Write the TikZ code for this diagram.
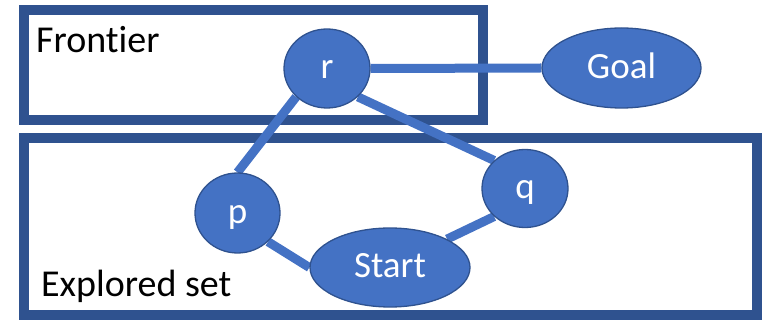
\documentclass[tikz,border=0pt]{standalone}
\usepackage{fontspec}
\setmainfont{Carlito}[Ligatures={NoCommon}]
\usetikzlibrary{shapes.geometric}
\definecolor{boxblue}{HTML}{2F528F}
\definecolor{nodeblue}{HTML}{4472C4}
\pgfdeclarelayer{boxes}
\pgfdeclarelayer{links}
\pgfsetlayers{boxes,links,main}
\tikzset{
  region/.style={draw=boxblue, line width=10pt},
  link/.style={draw=nodeblue, line width=9pt},
  vertex/.style={ellipse, fill=nodeblue, draw=boxblue, line width=1.3pt, inner sep=0pt,
    text=white, font=\fontsize{37}{44}\selectfont, text height=24pt, text depth=3pt},
  label/.style={anchor=base west, inner sep=0pt, font=\fontsize{38}{45}\selectfont, text=black}
}
\begin{document}
\begin{tikzpicture}[x=1pt, y=-1pt]
\useasboundingbox (0,0) rectangle (763,320);
\begin{pgfonlayer}{boxes}
\draw[region] (23.5,10.5) rectangle (483,120.5);
\draw[region] (23.5,138) rectangle (756.5,315);
\end{pgfonlayer}
\node[label] (frontier) at (36,53) {Frontier};
\node[label] (explored) at (41,297) {Explored set};

\node[vertex, minimum width=86pt, minimum height=79pt] (r) at (327,68.5) {r};
\node[vertex, minimum width=159pt, minimum height=80pt] (goal) at (621.5,68) {Goal};
\node[vertex, minimum width=85pt, minimum height=80pt] (p) at (237.5,213) {p};
\node[vertex, minimum width=86pt, minimum height=78pt] (q) at (525,188.5) {q};
\node[vertex, minimum width=160pt, minimum height=79pt] (start) at (390,267.5) {Start};

\begin{pgfonlayer}{links}
\draw[link] (r.east) -- (goal.west);
\draw[link] (r.south west) -- (p.north);
\draw[link] (r.south east) -- (q.north west);
\draw[link] (q.south west) -- (start.north east);
\draw[link] (p.south east) -- (start.west);
\end{pgfonlayer}
\end{tikzpicture}
\end{document}
